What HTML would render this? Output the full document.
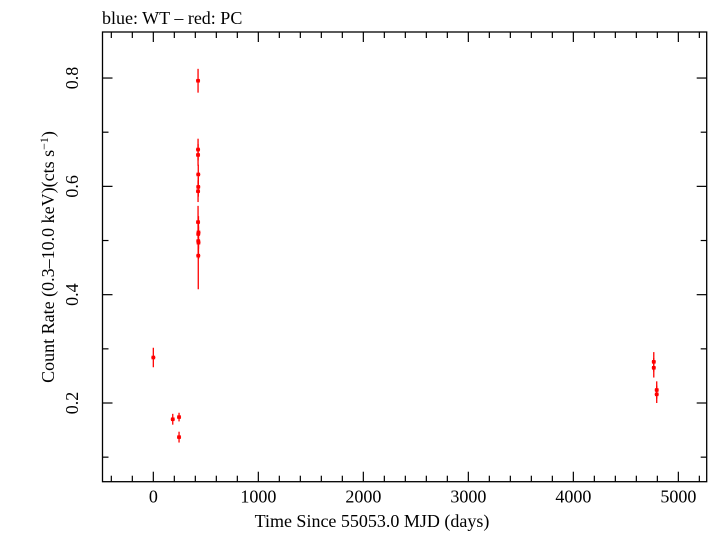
<!DOCTYPE html>
<html><head><meta charset="utf-8"><style>
body{margin:0;background:#fff;}
svg text{font-family:"Liberation Serif",serif;fill:#000;}
</style></head><body>
<svg id="chart" width="713" height="532" xmlns="http://www.w3.org/2000/svg">
<text x="102" y="24" font-size="18">blue: WT – red: PC</text>
<rect x="102.5" y="32" width="604.2" height="449.7" fill="none" stroke="#000" stroke-width="1.3"/>
<g id="ticks"></g>
<g id="points"></g>
<text x="372" y="527" font-size="18" text-anchor="middle">Time Since 55053.0 MJD (days)</text>
<text transform="translate(54,257) rotate(-90)" font-size="18" text-anchor="middle">Count Rate (0.3–10.0 keV)(cts s<tspan dy="-6" font-size="12">−1</tspan><tspan dy="6">)</tspan></text>
</svg>
<script>
const days=[0,185,245,245,426,426,426,428,428,426,426,430,428,428,430,428,4766,4766,4794,4794];
const rates=[0.284,0.170,0.174,0.137,0.795,0.668,0.658,0.622,0.599,0.591,0.534,0.515,0.512,0.499,0.496,0.472,0.276,0.265,0.224,0.216];
const errs=[0.018,0.010,0.008,0.010,0.022,0.02,0.02,0.018,0.018,0.02,0.03,0.03,0.03,0.03,0.03,0.062,0.018,0.018,0.016,0.016];
const xTicks=[0,1000,2000,3000,4000,5000];
const yTicks=[0.2,0.4,0.6,0.8];
const X0=102.5,X1=706.7,Y0=32,Y1=481.7,xmin=-484,xmax=5270,ymin=0.0547,ymax=0.885;
function sx(v){return X0+(v-xmin)/(xmax-xmin)*(X1-X0);}
function sy(v){return Y1-(v-ymin)/(ymax-ymin)*(Y1-Y0);}
const NS="http://www.w3.org/2000/svg";
const tg=document.getElementById('ticks'),pg=document.getElementById('points');
function line(g,x1,y1,x2,y2,c,w){const l=document.createElementNS(NS,'line');l.setAttribute('x1',x1);l.setAttribute('y1',y1);l.setAttribute('x2',x2);l.setAttribute('y2',y2);l.setAttribute('stroke',c);l.setAttribute('stroke-width',w);g.appendChild(l);return l;}
for(let v=-400;v<=5200;v+=200){const x=sx(v);const major=(v%1000===0);const L=major?10:6;
const a=line(tg,x,Y1,x,Y1-L,'#000',1.2);


const b=line(tg,x,Y0,x,Y0+L,'#000',1.2);

}
xTicks.forEach(v=>{const t=document.createElementNS(NS,'text');t.setAttribute('x',sx(v));t.setAttribute('y',Y1+21);t.setAttribute('font-size','18');t.setAttribute('text-anchor','middle');t.textContent=v;


tg.appendChild(t);});
for(let k=1;k<=8;k++){const v=k/10;const y=sy(v);const major=(k%2===0);const L=major?10:6;
const a=line(tg,X0,y,X0+L,y,'#000',1.2);


const b=line(tg,X1,y,X1-L,y,'#000',1.2);

}
yTicks.forEach(v=>{const t=document.createElementNS(NS,'text');const y=sy(v);t.setAttribute('transform','translate(78,'+y+') rotate(-90)');t.setAttribute('font-size','18');t.setAttribute('text-anchor','middle');t.textContent=v.toFixed(1);


tg.appendChild(t);});
days.forEach((d,i)=>{const x=sx(d),y=sy(rates[i]);
const g=document.createElementNS(NS,'g');


line(g,x,sy(rates[i]+errs[i]),x,sy(rates[i]-errs[i]),'#ff0000',1.3);
line(g,x-2,y,x+2,y,'#ff0000',1.3);
const r=document.createElementNS(NS,'rect');r.setAttribute('x',x-1.8);r.setAttribute('y',y-1.8);r.setAttribute('width',3.6);r.setAttribute('height',3.6);r.setAttribute('fill','#ff0000');g.appendChild(r);
pg.appendChild(g);});
</script>
</body></html>
